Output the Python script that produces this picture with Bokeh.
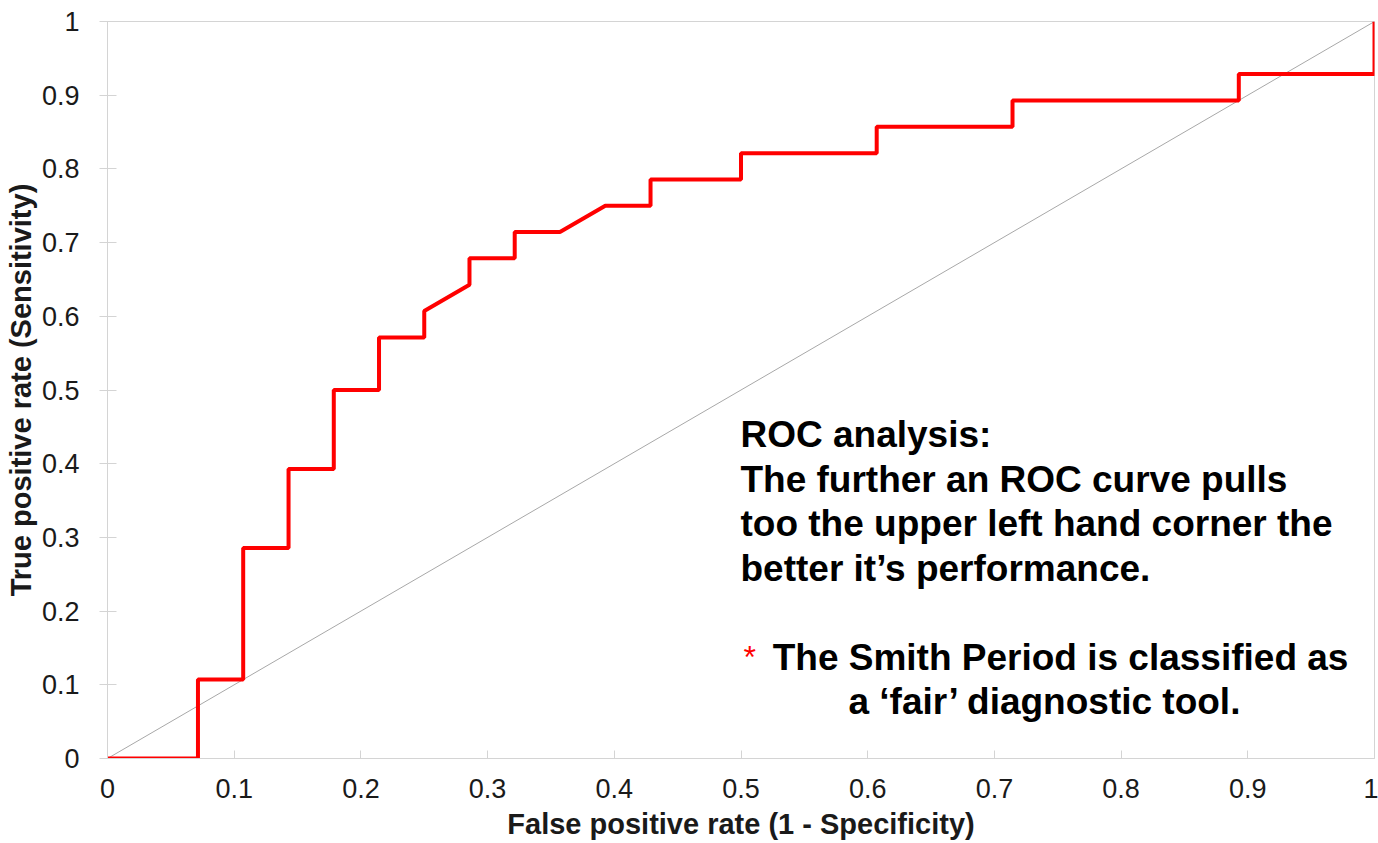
from bokeh.plotting import figure
from bokeh.models import Range1d, FixedTicker, Label
from bokeh.embed import file_html
from bokeh.resources import INLINE

# ROC curve points (false positive rate, true positive rate)
fpr = [0, 0.0714, 0.0714, 0.1071, 0.1071, 0.1429, 0.1429, 0.1786, 0.1786,
       0.2143, 0.2143, 0.25, 0.25, 0.2857, 0.2857, 0.3214, 0.3214, 0.3571,
       0.3929, 0.4286, 0.4286, 0.5, 0.5, 0.6071, 0.6071, 0.7143, 0.7143,
       0.8929, 0.8929, 1.0, 1.0]
tpr = [0, 0, 0.1071, 0.1071, 0.2857, 0.2857, 0.3929, 0.3929, 0.5,
       0.5, 0.5714, 0.5714, 0.6071, 0.6429, 0.6786, 0.6786, 0.7143, 0.7143,
       0.75, 0.75, 0.7857, 0.7857, 0.8214, 0.8214, 0.8571, 0.8571, 0.8929,
       0.8929, 0.9286, 0.9286, 1.0]
ref_x = [0, 1]
ref_y = [0, 1]

ticks = [0, 0.1, 0.2, 0.3, 0.4, 0.5, 0.6, 0.7, 0.8, 0.9, 1.0]
tick_labels = ["0", "0.1", "0.2", "0.3", "0.4", "0.5", "0.6", "0.7", "0.8", "0.9", "1"]

x_title = "False positive rate (1 - Specificity)"
y_title = "True positive rate (Sensitivity)"
note_lines = ["ROC analysis:",
              "The further an ROC curve pulls",
              "too the upper left hand corner the",
              "better it\u2019s performance."]
star_text = "*"
star_line = "The Smith Period is classified as"
star_line2 = "a \u2018fair\u2019 diagnostic tool."

FONT = "Liberation Sans"

p = figure(width=1378, height=843, output_backend="svg", toolbar_location=None,
           x_range=Range1d(0, 1), y_range=Range1d(0, 1),
           min_border_left=107, min_border_right=4, min_border_top=21, min_border_bottom=85)
p.background_fill_color = "white"
p.border_fill_color = "white"
p.outline_line_color = "#d4d4d4"
p.outline_line_width = 1
p.xgrid.visible = False
p.ygrid.visible = False

ov = {t: l for t, l in zip(ticks, tick_labels)}
for ax in (p.xaxis[0], p.yaxis[0]):
    ax.ticker = FixedTicker(ticks=ticks)
    ax.major_label_overrides = ov
    ax.minor_tick_line_color = None
    ax.axis_line_color = "#d4d4d4"
    ax.major_tick_line_color = "#d4d4d4"
    ax.major_label_text_font = FONT
    ax.major_label_text_font_size = "27px"
    ax.major_label_text_color = "#1a1a1a"
    ax.axis_label_text_font = FONT
    ax.axis_label_text_font_style = "bold"
    ax.axis_label_text_font_size = "29px"
    ax.axis_label_text_color = "#1a1a1a"

p.xaxis.axis_label = x_title
p.xaxis.major_tick_in = 8
p.xaxis.major_tick_out = 0
p.xaxis.major_label_standoff = 20
p.xaxis.axis_label_standoff = 7

p.yaxis.axis_label = y_title
p.yaxis.major_tick_in = 9
p.yaxis.major_tick_out = 8
p.yaxis.major_label_standoff = 20
p.yaxis.axis_label_standoff = 2

p.line(ref_x, ref_y, line_color="#a8a8a8", line_width=1)
p.line(fpr, tpr, line_color="#ff0000", line_width=4)

# annotation text
line_y = [0.4396, 0.3786, 0.3189, 0.2578]
for txt, yy in zip(note_lines, line_y):
    p.add_layout(Label(x=0.4996, y=yy, text=txt, text_font=FONT, text_font_style="bold",
                       text_font_size="37px", text_color="#000000", text_baseline="alphabetic"))
p.add_layout(Label(x=0.502, y=0.1383, text=star_text, text_font=FONT,
                   text_font_size="32px", text_color="#ff0000", text_baseline="alphabetic"))
p.add_layout(Label(x=0.5250, y=0.1370, text=star_line, text_font=FONT, text_font_style="bold",
                   text_font_size="37px", text_color="#000000", text_baseline="alphabetic"))
p.add_layout(Label(x=0.5848, y=0.0773, text=star_line2, text_font=FONT, text_font_style="bold",
                   text_font_size="37px", text_color="#000000", text_baseline="alphabetic"))

open("out.html", "w").write(file_html(p, INLINE))
